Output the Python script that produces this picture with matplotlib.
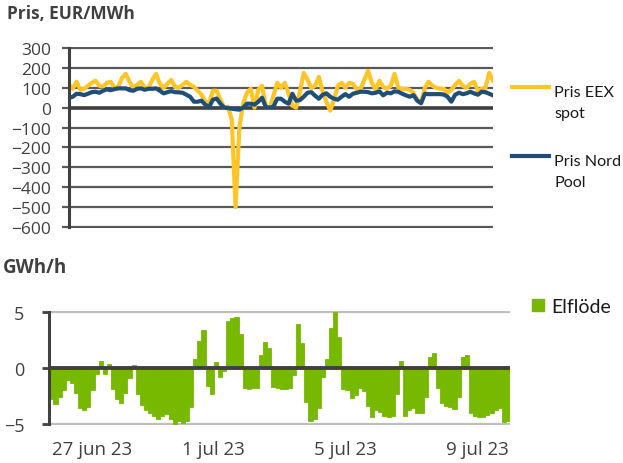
import matplotlib
matplotlib.use("Agg")
import matplotlib.pyplot as plt
import matplotlib.dates as mdates
import matplotlib.transforms as mtransforms
from matplotlib.lines import Line2D
from matplotlib.patches import Rectangle
import pandas as pd

plt.rcParams['font.family'] = ['Open Sans', 'DejaVu Sans']

# Priser, EUR/MWh (3-timmarsvärden)
eex_spot = [115, 95, 130, 90, 95, 110, 125, 135, 110, 105,
            125, 130, 100, 105, 150, 170, 130, 100, 115, 130,
            100, 100, 140, 170, 120, 100, 120, 140, 105, 100,
            115, 130, 115, 105, 85, 65, 30, 20, 85, 85,
            40, 0, 5, -60, -500, -100, 20, 75, 95, 0,
            90, 110, 5, 0, 60, 125, 100, 125, 70, 10,
            0, 80, 175, 140, 100, 110, 155, 80, 30, -15,
            40, 110, 125, 100, 125, 120, 90, 95, 140, 185,
            125, 90, 135, 105, 95, 110, 170, 100, 95, 95,
            90, 75, 40, 25, 100, 130, 110, 100, 95, 95,
            75, 90, 115, 135, 110, 100, 120, 130, 85, 95,
            100, 175, 135]
nord_pool = [49, 55, 70, 68, 63, 70, 78, 80, 75, 85,
             92, 88, 93, 97, 97, 97, 88, 85, 95, 97,
             90, 95, 95, 97, 85, 72, 78, 83, 78, 77,
             75, 65, 55, 30, 30, 35, 15, 3, 40, 46,
             20, 0, -2, -5, -8, -10, 0, 20, 20, 15,
             30, 50, 3, 0, 5, 45, 45, 30, 20, 70,
             35, 38, 55, 75, 78, 60, 45, 65, 72, 55,
             45, 40, 55, 68, 55, 70, 75, 80, 80, 78,
             72, 75, 82, 62, 75, 72, 82, 80, 70, 62,
             55, 63, 35, 22, 70, 68, 68, 68, 68, 66,
             55, 30, 65, 75, 68, 72, 80, 72, 65, 80,
             78, 70, 62]

# Elflöde, GWh/h (3-timmarsvärden från 26 jun)
elflode = [-2.8, -3.2, -2.6, -2.0, -1.1, -1.3, -2.2, -3.6, -3.8, -3.5,
           -2.0, -0.5, 0.6, -0.5, 0.4, -1.9, -2.8, -3.1, -2.2, -0.9,
           0.3, -2.3, -3.3, -3.8, -4.0, -4.3, -4.6, -4.3, -4.1, -4.6,
           -5.0, -4.7, -4.9, -4.7, -3.5, 0.8, 2.4, 3.4, -1.6, -2.3,
           0.5, -0.8, -0.3, 4.2, 4.5, 4.6, 3.0, -1.8, -1.9, -1.8,
           -1.8, 1.2, 2.3, 1.8, -1.7, -1.8, -1.9, -1.9, -1.8, -0.6,
           3.9, 2.2, -3.0, -4.7, -4.6, -3.6, -0.8, 0.8, 3.6, 5.0,
           2.8, -1.9, -2.0, -2.7, -2.4, -1.8, -2.1, -3.4, -4.4, -3.8,
           -3.9, -4.3, -4.4, -4.3, -2.3, 0.6, -4.3, -3.8, -3.6, -4.0,
           -4.0, -2.6, 1.0, 1.3, -1.8, -3.1, -3.4, -3.5, -3.7, -2.6,
           1.0, 1.2, -4.0, -4.3, -4.4, -4.4, -4.2, -4.0, -3.8, -3.6,
           -4.8, -4.7]

tick_dates = ['2023-06-27', '2023-07-01', '2023-07-05', '2023-07-09']
tick_labels = ['27 jun 23', '1 jul 23', '5 jul 23', '9 jul 23']
mark_dates = ['2023-06-30', '2023-07-04', '2023-07-08']

pris_tid = pd.date_range('2023-06-26', periods=len(eex_spot), freq='3h')
flode_tid = mdates.date2num(pd.date_range('2023-06-26', periods=len(elflode), freq='3h'))
flode_slut = mdates.date2num(pd.Timestamp('2023-07-10'))

W, H = 623, 464
fig = plt.figure(figsize=(W / 100, H / 100), dpi=100)

# --- Pris ---
ax1 = fig.add_axes([69 / W, 1 - 229 / H, 424 / W, 181 / H])
ax1.plot(pris_tid, eex_spot, color='#FFC425', lw=3, solid_joinstyle='round', label='Pris EEX spot')
ax1.plot(pris_tid, nord_pool, color='#1F4E79', lw=3, solid_joinstyle='round', label='Pris Nord Pool')
ax1.set_xlim(pris_tid[0], pris_tid[-1])
ax1.set_ylim(-605, 305)
ax1.set_yticks(range(-600, 301, 100))
ax1.set_xticks([])
ax1.grid(axis='y', color='#595959', lw=1.6)
ax1.set_axisbelow(True)
ax1.axhline(0, color='#404040', lw=2.6, zorder=1)
for s in ['top', 'right', 'bottom']:
    ax1.spines[s].set_visible(False)
ax1.spines['left'].set_color('#404040')
ax1.spines['left'].set_linewidth(2.2)
ax1.spines['left'].set_bounds(-600, 300)
ax1.tick_params(axis='y', direction='out', length=5, width=1.6, color='#595959',
                labelsize=12.5, labelcolor='#404040', pad=8)

fig.text(7 / W, 1 - 14 / H, 'Pris, EUR/MWh', fontsize=12.5, fontweight='bold',
         color='#404040', va='center', ha='left')

# legend for the price lines
for y_line, rader, farg in [(88, ['Pris EEX', 'spot'], '#FFC425'),
                            (157, ['Pris Nord', 'Pool'], '#1F4E79')]:
    fig.add_artist(Line2D([512 / W, 549 / W], [1 - y_line / H] * 2, color=farg, lw=3))
    for k, rad in enumerate(rader):
        fig.text(554 / W, 1 - (y_line + 9 + 21 * k) / H, rad, fontsize=11.6,
                 family=['Lato', 'DejaVu Sans'], color='#1a1a1a', va='baseline', ha='left')

# --- Elflöde ---
ax2 = fig.add_axes([49.3 / W, 1 - 426 / H, 460.7 / W, 114 / H])
ax2.bar(flode_tid, elflode, width=0.125, align='edge', color='#77B900',
        edgecolor='#77B900', lw=0.6)
ax2.set_xlim(flode_tid[0], flode_slut)
ax2.set_ylim(-5.1, 5.1)
ax2.set_yticks([-5, 0, 5])
ax2.grid(axis='y', color='#BFBFBF', lw=1.6)
ax2.set_axisbelow(True)
ax2.axhline(0, color='#404040', lw=2.8, zorder=3)
for s in ['top', 'right', 'bottom']:
    ax2.spines[s].set_visible(False)
ax2.spines['left'].set_color('#404040')
ax2.spines['left'].set_linewidth(2.2)
ax2.spines['left'].set_bounds(-5, 5)
ax2.tick_params(axis='y', direction='out', length=5, width=2, color='#404040',
                labelsize=13, labelcolor='#404040', pad=13)
ax2.set_xticks(mdates.date2num(pd.to_datetime(tick_dates)))
ax2.set_xticklabels(tick_labels)
ax2.tick_params(axis='x', length=0, labelsize=13.5, labelcolor='#404040', pad=11)
# first label kept inside the plot area
lbl0 = ax2.get_xticklabels()[0]
lbl0.set_transform(lbl0.get_transform() + mtransforms.ScaledTranslation(10 / 100, 0, fig.dpi_scale_trans))

# tick marks on the zero line
sec = ax2.secondary_xaxis(0.5)
sec.set_xticks(mdates.date2num(pd.to_datetime(mark_dates)))
sec.tick_params(axis='x', direction='in', length=4.5, width=3, color='#404040',
                labeltop=False, labelbottom=False)
for s in sec.spines.values():
    s.set_visible(False)

fig.text(3 / W, 1 - 268 / H, 'GWh/h', fontsize=13.5, fontweight='bold',
         color='#404040', va='center', ha='left')

# legend for the flow
fig.add_artist(Rectangle((532 / W, 1 - 312 / H), 12 / W, 12 / H, color='#77B900',
                         transform=fig.transFigure))
fig.text(551 / W, 1 - 313 / H, 'Elflöde', fontsize=14, family=['Lato', 'DejaVu Sans'],
         color='#1a1a1a', va='baseline', ha='left')

fig.savefig('out.png', dpi=100)
